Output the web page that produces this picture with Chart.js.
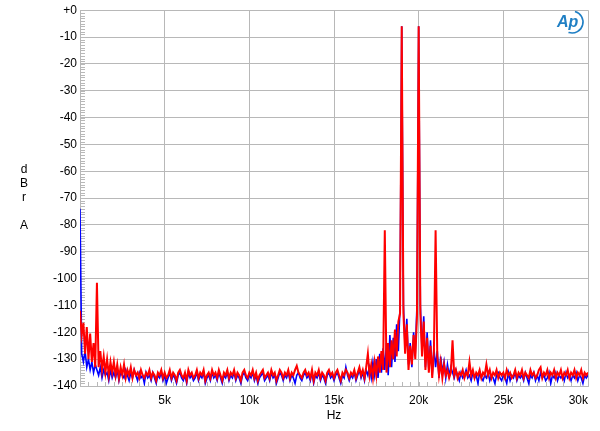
<!doctype html>
<html lang="en">

<head>
    <meta charset="utf-8">
    <title>FFT spectrum</title>
    <script src="https://cdn.jsdelivr.net/npm/chart.js@4.4.0/dist/chart.umd.min.js"></script>
    <style>
        body { margin: 0; background: #fff; }
    </style>
</head>

<body>

    <canvas id="chart" width="600" height="431"></canvas>

    <script>
        // bin width of the spectrum, Hz (values below are one per bin, 0 .. 30 kHz)
        var BIN_HZ = 100;

        // red trace, dBr A
        var rojo = [
            -112, -121, -116.5, -128, -118, -130, -120.5, -131, -124, -133,
            -101.5, -133, -127, -134, -129, -135, -130, -136, -131, -135,
            -131, -136, -132, -137, -133, -136, -132, -137, -134, -136,
            -133, -137, -134, -136, -135, -137, -134, -136, -137, -135,
            -136, -134, -137, -135, -136, -138, -135, -136, -134, -137,
            -135, -137, -136, -134, -137, -135, -136, -138, -135, -134,
            -136, -137, -135, -138, -134, -136, -135, -137, -136, -134,
            -137, -135, -136, -134, -138, -136, -135, -137, -134, -136,
            -135, -137, -134, -136, -138, -135, -136, -134, -137, -135,
            -136, -134, -137, -135, -136, -138, -135, -134, -136, -137,
            -135, -136, -134, -137, -135, -138, -136, -135, -134, -137,
            -136, -135, -137, -134, -136, -135, -138, -136, -134, -135,
            -137, -135, -136, -134, -137, -135, -136, -134, -132.5, -135,
            -136, -137, -135, -134, -136, -135, -137, -134, -138, -135,
            -136, -134, -137, -135, -136, -138, -135, -134, -136, -135,
            -137, -135, -134, -136, -138, -135, -136, -134, -135, -137,
            -135, -136, -134, -137, -135, -133, -136, -134, -137, -133,
            -128, -136, -132, -137, -131, -136, -129, -135, -127, -134,
            -82, -135, -124, -133, -123, -130, -119, -129, -116, -113,
            -6, -113, -128, -117, -134, -125, -132, -121, -130, -114,
            -6, -113, -129, -116, -134, -122, -135, -125, -137, -127,
            -82, -129, -136, -131, -137, -132, -136, -134, -137, -135,
            -123, -136, -134, -137, -135, -136, -134, -137, -135, -136,
            -131, -136, -134, -137, -135, -136, -134, -137, -135, -136,
            -132, -136, -134, -137, -135, -136, -134, -137, -135, -136,
            -135, -137, -134, -136, -135, -137, -136, -134, -137, -135,
            -136, -134, -137, -135, -136, -137, -134, -136, -135, -137,
            -136, -134, -133, -137, -135, -136, -134, -137, -135, -136,
            -134, -137, -135, -136, -134, -137, -135, -136, -134, -137,
            -135, -136, -134, -137, -135, -136, -134, -137, -135, -136,
            -135
        ];

        // blue trace, dBr A
        var azul = [
            -74, -128, -131, -127, -133, -130, -134, -131, -135, -132,
            -134, -136, -133, -137, -134, -136, -135, -138, -134, -137,
            -135, -137, -134, -138, -135, -136, -137, -134, -136, -138,
            -135, -137, -134, -136, -138, -135, -137, -136, -139, -135,
            -137, -136, -138, -135, -137, -139, -136, -137, -135, -138,
            -136, -139, -137, -135, -138, -136, -137, -139, -136, -135,
            -137, -138, -136, -139, -135, -137, -136, -138, -137, -135,
            -138, -136, -137, -135, -139, -137, -136, -138, -135, -137,
            -136, -138, -135, -137, -139, -136, -137, -135, -138, -136,
            -137, -135, -138, -136, -137, -139, -136, -135, -137, -138,
            -136, -137, -135, -138, -136, -139, -137, -136, -135, -138,
            -137, -136, -138, -135, -137, -136, -139, -137, -135, -136,
            -138, -136, -137, -135, -138, -136, -137, -139, -136, -135,
            -137, -138, -136, -135, -137, -136, -138, -135, -139, -136,
            -137, -135, -138, -136, -137, -139, -136, -135, -137, -136,
            -138, -136, -135, -137, -139, -136, -137, -133, -136, -138,
            -136, -137, -135, -138, -136, -134, -137, -135, -138, -134,
            -136, -133, -137, -131, -136, -130, -137, -128, -135, -126,
            -134, -124, -136, -121, -133, -122, -131, -117, -127, -110,
            -6, -110, -126, -115, -132, -124, -133, -120, -128, -110,
            -6, -110, -127, -114, -133, -120, -134, -123, -136, -126,
            -133, -127, -137, -129, -135, -131, -137, -132, -136, -133,
            -135, -137, -134, -136, -138, -135, -137, -136, -134, -137,
            -136, -138, -135, -137, -136, -139, -135, -137, -138, -136,
            -137, -135, -138, -136, -137, -139, -136, -135, -137, -138,
            -136, -137, -139, -135, -138, -136, -137, -135, -138, -136,
            -137, -136, -138, -135, -137, -139, -136, -137, -135, -138,
            -136, -138, -135, -137, -136, -138, -137, -135, -139, -136,
            -137, -135, -138, -136, -137, -136, -138, -135, -137, -136,
            -138, -136, -137, -135, -138, -136, -137, -139, -136, -137,
            -136
        ];

        function puntos(arr) {
            return arr.map(function (v, i) { return { x: i * BIN_HZ, y: v }; });
        }

        var GRIS = '#b8b8b8';

        // minor ticks, vertical axis label and the AP logo
        var extras = {
            id: 'extras',
            beforeDatasetsDraw: function (chart) {
                var ctx = chart.ctx, x = chart.scales.x, y = chart.scales.y;
                ctx.save();
                ctx.strokeStyle = GRIS;
                ctx.lineWidth = 1;
                ctx.beginPath();
                for (var d = -140; d <= 0; d += 1) {
                    var py = Math.round(y.getPixelForValue(d)) + 0.5;
                    ctx.moveTo(x.left, py);
                    ctx.lineTo(x.left + 5, py);
                }
                for (var f = 500; f < 30000; f += 500) {
                    var px = Math.round(x.getPixelForValue(f)) + 0.5;
                    ctx.moveTo(px, y.bottom);
                    ctx.lineTo(px, y.bottom - 4);
                }
                ctx.stroke();
                ctx.restore();
            },
            afterDraw: function (chart) {
                var ctx = chart.ctx;
                ctx.save();
                ctx.fillStyle = '#000';
                ctx.font = '12px "Liberation Sans", Arial, sans-serif';
                ctx.textAlign = 'center';
                ctx.textBaseline = 'middle';
                var letras = ['d', 'B', 'r', '', 'A'];
                for (var i = 0; i < letras.length; i++) {
                    ctx.fillText(letras[i], 24, 170 + i * 13.8);
                }
                // AP logo
                ctx.fillStyle = '#1f7fc4';
                ctx.strokeStyle = '#1f7fc4';
                ctx.font = 'italic bold 16px "Liberation Sans", Arial, sans-serif';
                ctx.textAlign = 'left';
                ctx.fillText('Ap', 557, 23);
                ctx.lineWidth = 1.6;
                ctx.beginPath();
                ctx.arc(572, 22, 11, -1.3, 1.9);
                ctx.stroke();
                ctx.restore();
            }
        };

        Chart.defaults.font.family = '"Liberation Sans", Arial, sans-serif';
        Chart.defaults.font.size = 12;
        Chart.defaults.color = '#000';

        new Chart(document.getElementById('chart').getContext('2d'), {
            type: 'line',
            data: {
                datasets: [{
                    label: 'rojo',
                    data: puntos(rojo),
                    borderColor: '#ff0000',
                    borderWidth: 2,
                    pointRadius: 0,
                    tension: 0,
                    fill: false
                }, {
                    label: 'azul',
                    data: puntos(azul),
                    borderColor: '#0000ff',
                    borderWidth: 1.6,
                    pointRadius: 0,
                    tension: 0,
                    fill: false
                }]
            },
            options: {
                responsive: false,
                animation: false,
                layout: { padding: { top: 8, right: 12, left: 0, bottom: 0 } },
                plugins: { legend: { display: false }, tooltip: { enabled: false } },
                scales: {
                    x: {
                        type: 'linear',
                        min: 0,
                        max: 30000,
                        afterFit: function (s) { s.height = 45; },
                        grid: { color: GRIS, drawTicks: false },
                        border: { color: GRIS },
                        ticks: {
                            stepSize: 5000,
                            padding: 7,
                            align: 'inner',
                            maxRotation: 0,
                            callback: function (v) { return v === 0 ? '' : (v / 1000) + 'k'; }
                        },
                        title: { display: true, text: 'Hz', padding: { top: 0, bottom: 8 } }
                    },
                    y: {
                        min: -140,
                        max: 0,
                        afterFit: function (s) { s.width = 80; },
                        grid: { color: GRIS, drawTicks: false },
                        border: { color: GRIS },
                        ticks: {
                            stepSize: 10,
                            padding: 3,
                            callback: function (v) { return v === 0 ? '+0' : String(v); }
                        }
                    }
                }
            },
            plugins: [extras]
        });
    </script>

</body>

</html>
